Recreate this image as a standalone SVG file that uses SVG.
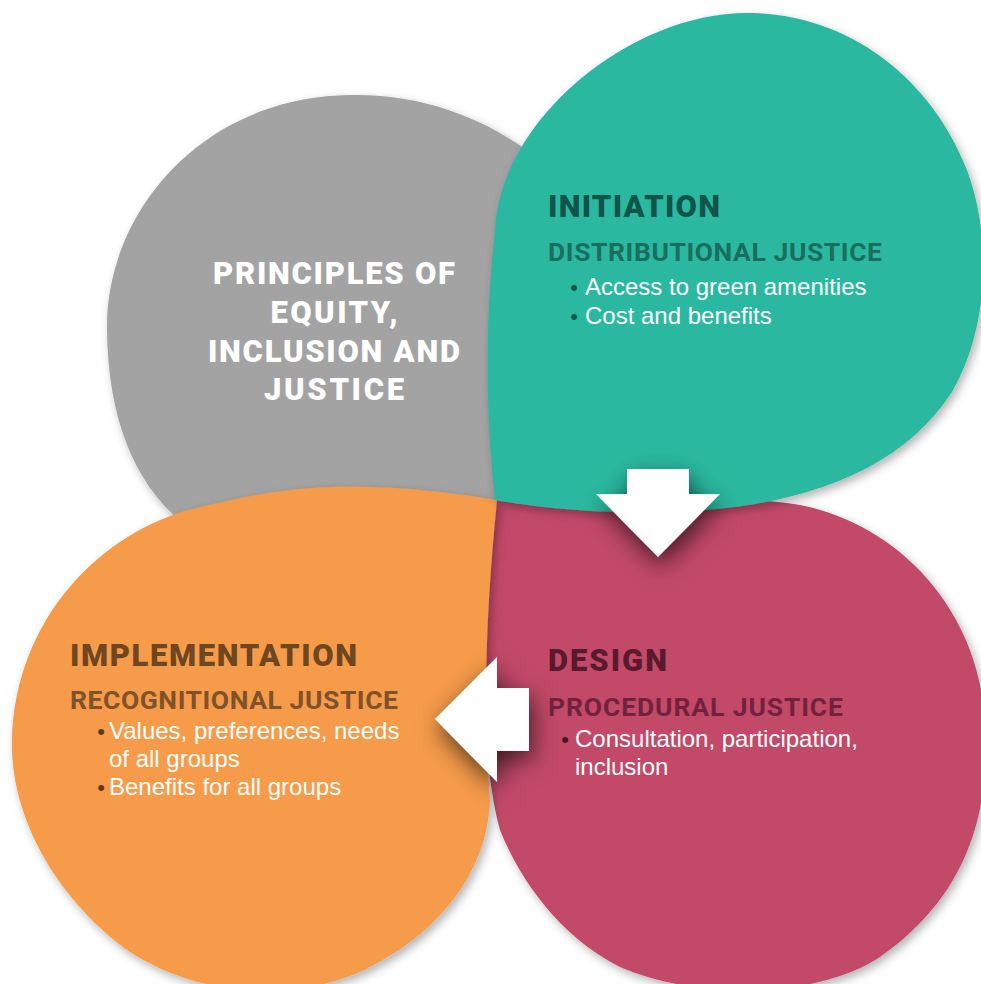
<svg xmlns="http://www.w3.org/2000/svg" width="981" height="984" viewBox="0 0 981 984">
  <defs>
    <filter id="blobShadow" x="-10%" y="-10%" width="120%" height="120%">
      <feDropShadow dx="3" dy="4" stdDeviation="5" flood-color="#000000" flood-opacity="0.3"/>
    </filter>
    <filter id="arrowShadow" x="-60%" y="-60%" width="220%" height="220%">
      <feDropShadow dx="3" dy="9" stdDeviation="12" flood-color="#000000" flood-opacity="0.65"/>
    </filter>
    <style>
      .head { font-family: Roboto, "Liberation Sans", sans-serif; font-weight: 900; font-size: 31px; }
      .sub { font-family: Roboto, "Liberation Sans", sans-serif; font-weight: 700; font-size: 26.5px; }
      .body { font-family: "Liberation Sans", Arial, sans-serif; font-size: 24px; fill: #ffffff; }
      .bul { font-family: "Liberation Sans", Arial, sans-serif; font-size: 22px; text-anchor: middle; }
      .arrow { fill: #ffffff; filter: url(#arrowShadow); }
    </style>
  </defs>
  <rect width="981" height="984" fill="#ffffff"/>

  <g id="principles">
    <path d="M350,95 C430,93 500,125 545,165 C600,230 590,420 480,520 C400,580 240,570 185,525 C135,485 108,420 107,330 C105,215 200,97 350,95 Z" fill="#a3a3a3" filter="url(#blobShadow)"/>
    <g class="head" fill="#ffffff" text-anchor="middle">
      <text x="334" y="284" textLength="242" lengthAdjust="spacing">PRINCIPLES OF</text>
      <text x="334" y="323" textLength="127" lengthAdjust="spacing">EQUITY,</text>
      <text x="334" y="362" textLength="252" lengthAdjust="spacing">INCLUSION AND</text>
      <text x="334" y="400" textLength="140" lengthAdjust="spacing">JUSTICE</text>
    </g>
  </g>

  <g id="design">
    <path d="M493,500 C600,495 720,492 800,505 C900,525 978,610 985,720 C992,820 962,900 880,957 C820,997 700,1002 620,967 C560,937 520,880 500,830 C480,760 478,600 493,500 Z" fill="#c24867" filter="url(#blobShadow)"/>
  </g>

  <g id="implementation">
    <path d="M333,487 C390,485 450,492 497,500 C487,600 482,700 490,800 C488,870 440,935 360,972 C290,1002 200,997 130,952 C60,902 10,820 12,740 C15,620 100,530 200,507 C250,495 290,488 333,487 Z" fill="#f59b4a" filter="url(#blobShadow)"/>
  </g>

  <g id="initiation">
    <path d="M747,13 C850,13 932,80 967,170 C993,240 988,330 952,392 C900,472 800,508 670,512 C600,514 540,508 495,500 C486,420 484,330 495,230 C500,120 630,13 747,13 Z" fill="#2bb9a0" filter="url(#blobShadow)"/>
  </g>

  <g id="connectors">
    <polygon class="arrow" points="627,469 689,469 689,494 720,494 658,557 596,494 627,494"/>
    <polygon class="arrow" points="529,688 529,751 497,751 497,782 435,719 497,657 497,688"/>
  </g>

  <g id="initiation-text">
    <text class="head" x="548" y="217" fill="#11544a" textLength="172" lengthAdjust="spacing">INITIATION</text>
    <text class="sub" x="548" y="261" fill="#1a6e5e" textLength="334" lengthAdjust="spacing">DISTRIBUTIONAL JUSTICE</text>
    <text class="bul" x="574" y="295" fill="#11544a">•</text>
    <text class="body" x="585" y="295">Access to green amenities</text>
    <text class="bul" x="574" y="324" fill="#11544a">•</text>
    <text class="body" x="585" y="324">Cost and benefits</text>
  </g>

  <g id="design-text">
    <text class="head" x="548" y="671" fill="#5a1a2e" textLength="119" lengthAdjust="spacing">DESIGN</text>
    <text class="sub" x="548" y="716" fill="#73223e" textLength="295" lengthAdjust="spacing">PROCEDURAL JUSTICE</text>
    <text class="bul" x="565" y="747" fill="#4a1424">•</text>
    <text class="body" x="575" y="747">Consultation, participation,</text>
    <text class="body" x="575" y="775">inclusion</text>
  </g>

  <g id="implementation-text">
    <text class="head" x="70" y="666" fill="#6e4620" textLength="287" lengthAdjust="spacing">IMPLEMENTATION</text>
    <text class="sub" x="70" y="709" fill="#80522a" textLength="328" lengthAdjust="spacing">RECOGNITIONAL JUSTICE</text>
    <text class="bul" x="101" y="739" fill="#5a3a1a">•</text>
    <text class="body" x="109" y="739">Values, preferences, needs</text>
    <text class="body" x="109" y="767">of all groups</text>
    <text class="bul" x="101" y="795" fill="#5a3a1a">•</text>
    <text class="body" x="109" y="795">Benefits for all groups</text>
  </g>
</svg>
